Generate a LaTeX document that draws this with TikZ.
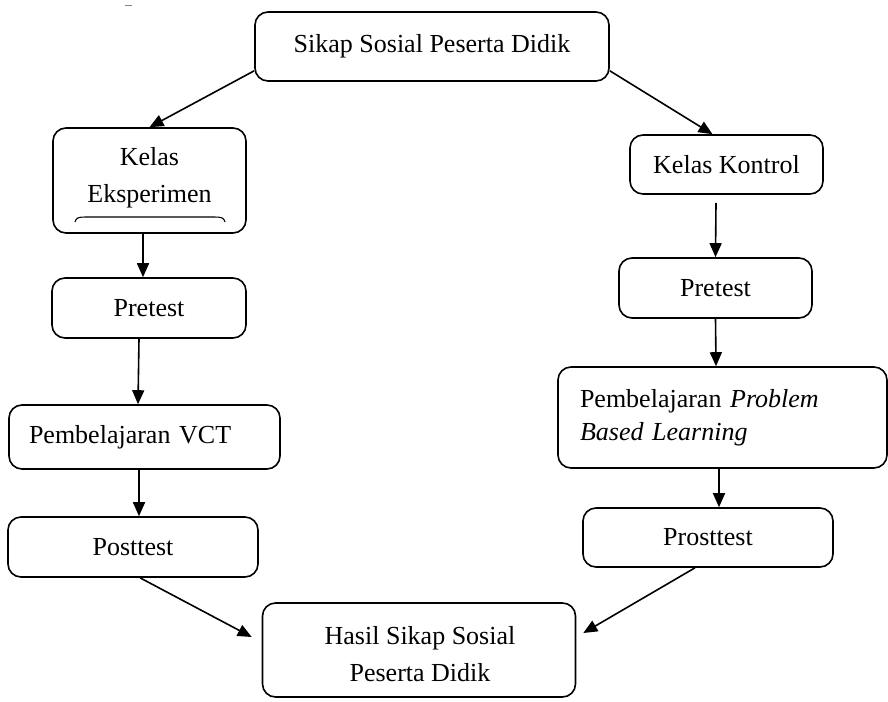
\documentclass[tikz,border=0pt]{standalone}
\usepackage{fontspec}
\setmainfont{Liberation Serif}
\usetikzlibrary{arrows.meta,calc}
\tikzset{
  box/.style={draw, line width=1.6pt, rounded corners=13pt, rectangle, inner sep=0pt,
    font=\fontsize{26}{37}\selectfont, align=center},
  arr/.style={line width=1.6pt, -{Triangle[length=14pt,width=12pt]}},
}
\begin{document}
\begin{tikzpicture}[x=1pt,y=-1pt]
\useasboundingbox (0,0) rectangle (888,701);
\node[box, minimum width=354pt, minimum height=69pt] (top) at (432,46.5) {Sikap Sosial Peserta Didik};
\node[box, minimum width=193pt, minimum height=105pt] (eksp) at (149.5,180.5) {};
\node[font=\fontsize{26}{37}\selectfont, align=center, inner sep=0pt] (eksptext) at (149.5,178) {Kelas\\Eksperimen};
\node[box, minimum width=194pt, minimum height=60pt] (preL) at (149,308) {Pretest};
\node[box, minimum width=271pt, minimum height=64pt, text width=231pt, inner xsep=20pt, align=left] (vct) at (144.5,437) {Pembelajaran VCT};
\node[box, minimum width=250pt, minimum height=60pt] (post) at (133,547) {Posttest};
\node[box, minimum width=313pt, minimum height=94pt] (hasil) at (419,650) {};
\node[font=\fontsize{26}{37}\selectfont, align=center, inner sep=0pt] (hasiltext) at (420,654) {Hasil Sikap Sosial\\Peserta Didik};
\node[box, minimum width=193pt, minimum height=59pt] (kontrol) at (726.5,164.5) {Kelas Kontrol};
\node[box, minimum width=193pt, minimum height=60pt] (preR) at (715.5,288) {Pretest};
\node[box, minimum width=329pt, minimum height=101pt, text width=285pt, inner xsep=22pt, align=left, font=\fontsize{26}{33}\selectfont] (pbl) at (722.5,417.5) {Pembelajaran \textit{Problem}\\\textit{Based Learning}};
\node[box, minimum width=250pt, minimum height=59pt] (prost) at (708,537.5) {Prosttest};
% underline arc inside Kelas Eksperimen
\draw[line width=1.1pt] (75,222) .. controls (76,217.5) and (79,217) .. (86,217) -- (214,217) .. controls (221,217) and (224,217.5) .. (225,222);
% stray mark
\draw[line width=1pt, gray] (125,6) -- (132,6);
% connectors
\draw[arr] ($(top.south west)+(0,-11)$) -- (eksp.north);
\draw[arr] ($(top.south east)+(0,-11)$) -- ($(kontrol.north)+(-14,0)$);
\draw[arr] ($(eksp.south)+(-6.5,0)$) -- ($(preL.north)+(-6,0)$);
\draw[arr] ($(preL.south)+(-10,0)$) -- ($(vct.north)+(-6.5,0)$);
\draw[arr] ($(vct.south)+(-5.5,0)$) -- ($(post.north)+(6,0)$);
\draw[arr] ($(post.south)+(7,0)$) -- ($(hasil.west)+(-10,-13)$);
\draw[arr] ($(kontrol.south)+(-10.5,8)$) -- (preR.north);
\draw[arr] (preR.south) -- ($(pbl.north)+(-6.5,0)$);
\draw[arr] ($(pbl.south)+(-3.5,0)$) -- ($(prost.north)+(11,0)$);
\draw[arr] ($(prost.south)+(-13,0)$) -- ($(hasil.east)+(7,-17)$);
\end{tikzpicture}
\end{document}
